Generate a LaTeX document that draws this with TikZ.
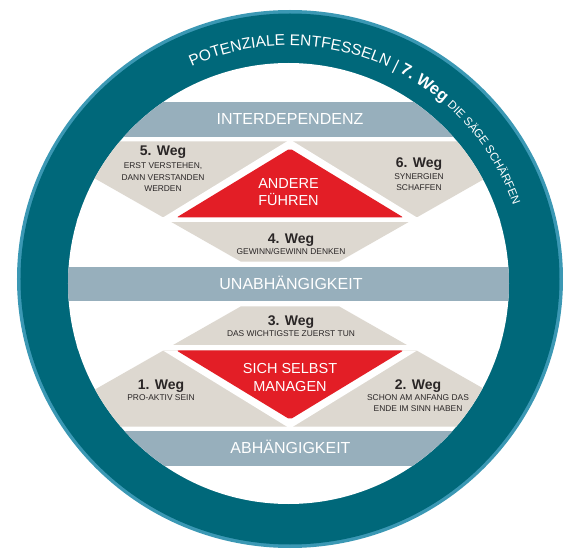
\documentclass[tikz,border=0pt]{standalone}
\usepackage{fontspec}
\setmainfont{Liberation Sans}
\usetikzlibrary{positioning,decorations.text}

\definecolor{ringdark}{HTML}{00687A}
\definecolor{ringlight}{HTML}{3B98B4}
\definecolor{bandgray}{HTML}{97AFBC}
\definecolor{tilebeige}{HTML}{DDD8D0}
\definecolor{corered}{HTML}{E31E26}
\definecolor{inkdark}{HTML}{2A2626}

\tikzset{
band/.style      = {fill=bandgray},
tile/.style      = {fill=tilebeige},
gap/.style       = {fill=white},
core/.style      = {fill=corered, rounded corners=2pt},
bandlabel/.style = {text=white, inner sep=0pt, text height=11.5pt, text depth=0pt, font=\fontsize{16}{16}\selectfont},
corelabel/.style = {text=white, inner sep=0pt, align=center, font=\fontsize{14.5}{17.7}\selectfont},
wegtitle/.style  = {text=inkdark, inner sep=0pt, text height=10pt, text depth=0pt, font=\bfseries\fontsize{14}{14}\selectfont},
wegnote/.style   = {text=inkdark, inner sep=0pt, align=center, font=\fontsize{8.4}{11.5}\selectfont}
}

\begin{document}
\begin{tikzpicture}[x=1pt, y=1pt]
  \useasboundingbox (-290,-265) rectangle (281,284);
  \coordinate (ringc) at (-1.5,0.5);

  % ring
  \fill[ringlight] (0,5) ellipse [x radius=273, y radius=269];
  \fill[ringdark]  (0,5) ellipse [x radius=269.5, y radius=265.5];
  \fill[white] (ringc) circle [radius=220.5];

  \begin{scope}
    \clip (ringc) circle [radius=220.5];
    % bands
    \fill[band] (-300,147)  rectangle (300,182);
    \fill[band] (-300,-17)  rectangle (300,17);
    \fill[band] (-300,-147) rectangle (300,-182);
    % upper and lower halves
    \foreach \s in {1,-1} {
      \begin{scope}[yscale=\s]
        \fill[tile] (-260,142.5) -- (260,142.5) -- (49,22.3) -- (-49,22.3) -- cycle;
        \fill[gap]  (-300,61.5) rectangle (300,66.5);
        \fill[gap]  (0,144.5) -- (127,66.5) -- (-127,66.5) -- cycle;
        \fill[core] (0,135.5) -- (113.5,66.5) -- (-113.5,66.5) -- cycle;
      \end{scope}
    }
  \end{scope}

  \node[bandlabel] (inter) at (0,165)     {INTERDEPENDENZ};
  \node[bandlabel] (unab)  at (1,0)       {UNABHÄNGIGKEIT};
  \node[bandlabel] (abh)   at (0.5,-164)  {ABHÄNGIGKEIT};

  \node[corelabel] (andere) at (-1.5,91.8) {ANDERE\\FÜHREN};
  \node[corelabel] (selbst) at (0,-93.8)   {SICH SELBST\\MANAGEN};

  \node[wegtitle] (w5) at (-127,133)    {5. Weg};
  \node[wegnote, below=6.5pt of w5] (w5t) {ERST VERSTEHEN,\\DANN VERSTANDEN\\WERDEN};
  \node[wegtitle] (w6) at (129,121.3)   {6. Weg};
  \node[wegnote, below=5.5pt of w6] (w6t) {SYNERGIEN\\SCHAFFEN};
  \node[wegtitle] (w4) at (1,45.7)      {4. Weg};
  \node[wegnote, below=4.5pt of w4] (w4t) {GEWINN/GEWINN DENKEN};
  \node[wegtitle] (w3) at (1,-36.7)     {3. Weg};
  \node[wegnote, below=4.5pt of w3] (w3t) {DAS WICHTIGSTE ZUERST TUN};
  \node[wegtitle] (w1) at (-129,-100.3) {1. Weg};
  \node[wegnote, below=4.5pt of w1] (w1t) {PRO-AKTIV SEIN};
  \node[wegtitle] (w2) at (128,-100.3)  {2. Weg};
  \node[wegnote, below=4.5pt of w2] (w2t) {SCHON AM ANFANG DAS\\ENDE IM SINN HABEN};

  % text on the ring
  \path[decorate, decoration={text along path, text color=white, text align=left,
      text format delimiters={[}{]},
      text={[\fontsize{15.5}{15}\selectfont]POTENZIALE ENTFESSELN | [\bfseries\fontsize{16.5}{15}\selectfont]7. Weg [\mdseries\fontsize{11.5}{11}\selectfont]DIE SÄGE SCHÄRFEN}}]
    ([shift={(114:238)}]ringc) arc [start angle=114, end angle=5, radius=238];
\end{tikzpicture}
\end{document}
